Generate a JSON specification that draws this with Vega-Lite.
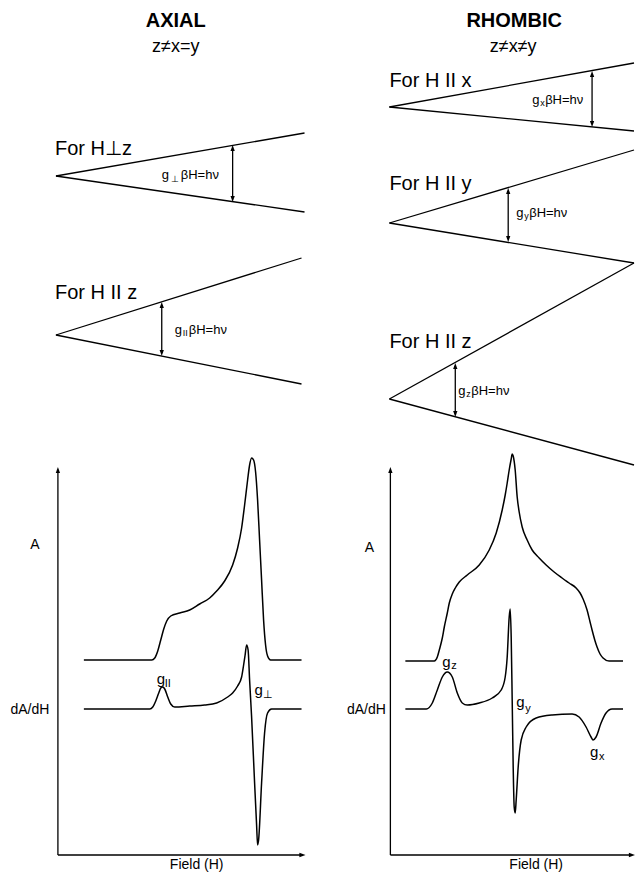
{
  "$schema": "https://vega.github.io/schema/vega-lite/v6.json",
  "width": 635,
  "height": 872,
  "autosize": {"type": "fit", "contains": "padding"},
  "padding": 0,
  "background": "white",
  "config": {"view": {"stroke": null}, "font": "Liberation Sans"},
  "encoding": {
    "x": {"field": "x", "type": "quantitative", "scale": {"domain": [0, 635], "nice": false, "zero": false}, "axis": null},
    "y": {"field": "y", "type": "quantitative", "scale": {"domain": [0, 872], "nice": false, "zero": false, "reverse": true}, "axis": null}
  },
  "layer": [
    {
      "data": {"values": [
        {"x": 56, "y": 176, "x2": 305, "y2": 133},
        {"x": 56, "y": 176, "x2": 305, "y2": 212},
        {"x": 56, "y": 335, "x2": 302, "y2": 258},
        {"x": 56, "y": 335, "x2": 302, "y2": 384},
        {"x": 390, "y": 107, "x2": 635, "y2": 63},
        {"x": 390, "y": 107, "x2": 635, "y2": 131},
        {"x": 390, "y": 223, "x2": 635, "y2": 150},
        {"x": 390, "y": 223, "x2": 635, "y2": 263},
        {"x": 390, "y": 399, "x2": 635, "y2": 263},
        {"x": 390, "y": 399, "x2": 635, "y2": 465},
        {"x": 233, "y": 149, "x2": 233, "y2": 198},
        {"x": 162, "y": 305, "x2": 162, "y2": 353},
        {"x": 593, "y": 74, "x2": 593, "y2": 124},
        {"x": 509, "y": 191, "x2": 509, "y2": 239},
        {"x": 456, "y": 366, "x2": 456, "y2": 414},
        {"x": 58, "y": 472, "x2": 58, "y2": 855},
        {"x": 58, "y": 855, "x2": 302, "y2": 855},
        {"x": 391, "y": 472, "x2": 391, "y2": 855},
        {"x": 391, "y": 855, "x2": 632, "y2": 855}
      ]},
      "mark": {"type": "rule", "color": "black", "strokeWidth": 1.3},
      "encoding": {"x2": {"field": "x2"}, "y2": {"field": "y2"}}
    },
    {
      "data": {"values": [
        {"x": 233, "y": 145, "d": "up"}, {"x": 233, "y": 202, "d": "down"},
        {"x": 162, "y": 302, "d": "up"}, {"x": 162, "y": 356, "d": "down"},
        {"x": 593, "y": 71, "d": "up"}, {"x": 593, "y": 127, "d": "down"},
        {"x": 509, "y": 188, "d": "up"}, {"x": 509, "y": 242, "d": "down"},
        {"x": 456, "y": 363, "d": "up"}, {"x": 456, "y": 417, "d": "down"},
        {"x": 58, "y": 467, "d": "up"}, {"x": 306, "y": 855, "d": "right"},
        {"x": 391, "y": 467, "d": "up"}, {"x": 636, "y": 855, "d": "right"}
      ]},
      "mark": {"type": "point", "filled": true, "opacity": 1, "color": "black", "strokeWidth": 0},
      "encoding": {
        "shape": {"field": "d", "type": "nominal", "legend": null,
          "scale": {"domain": ["up", "down", "right"], "range": ["M0,0L0.35,1L-0.35,1Z", "M0,0L0.35,-1L-0.35,-1Z", "M0,0L-1,0.35L-1,-0.35Z"]}},
        "size": {"value": 150}
      }
    },
    {
      "data": {"values": [
        {"c": "A_ax", "x": 84, "y": 660}, {"c": "A_ax", "x": 152, "y": 660}, {"c": "A_ax", "x": 155, "y": 658}, {"c": "A_ax", "x": 158, "y": 651}, {"c": "A_ax", "x": 161, "y": 640}, {"c": "A_ax", "x": 164, "y": 629}, {"c": "A_ax", "x": 167, "y": 621}, {"c": "A_ax", "x": 171, "y": 616}, {"c": "A_ax", "x": 180, "y": 613}, {"c": "A_ax", "x": 190, "y": 610}, {"c": "A_ax", "x": 200, "y": 604}, {"c": "A_ax", "x": 210, "y": 598}, {"c": "A_ax", "x": 217, "y": 591}, {"c": "A_ax", "x": 225, "y": 581}, {"c": "A_ax", "x": 233, "y": 565}, {"c": "A_ax", "x": 238, "y": 548}, {"c": "A_ax", "x": 242, "y": 528}, {"c": "A_ax", "x": 245, "y": 505}, {"c": "A_ax", "x": 248, "y": 480}, {"c": "A_ax", "x": 250, "y": 465}, {"c": "A_ax", "x": 252, "y": 458}, {"c": "A_ax", "x": 254, "y": 460}, {"c": "A_ax", "x": 256, "y": 472}, {"c": "A_ax", "x": 258, "y": 500}, {"c": "A_ax", "x": 260, "y": 540}, {"c": "A_ax", "x": 262, "y": 580}, {"c": "A_ax", "x": 264, "y": 620}, {"c": "A_ax", "x": 266, "y": 645}, {"c": "A_ax", "x": 268, "y": 656}, {"c": "A_ax", "x": 271, "y": 660}, {"c": "A_ax", "x": 302, "y": 660},

        {"c": "D_ax", "x": 84, "y": 709}, {"c": "D_ax", "x": 150, "y": 709}, {"c": "D_ax", "x": 153, "y": 707}, {"c": "D_ax", "x": 156, "y": 701}, {"c": "D_ax", "x": 159, "y": 693}, {"c": "D_ax", "x": 161, "y": 688}, {"c": "D_ax", "x": 163, "y": 687}, {"c": "D_ax", "x": 165, "y": 689}, {"c": "D_ax", "x": 168, "y": 697}, {"c": "D_ax", "x": 171, "y": 704}, {"c": "D_ax", "x": 175, "y": 707}, {"c": "D_ax", "x": 190, "y": 706}, {"c": "D_ax", "x": 205, "y": 705}, {"c": "D_ax", "x": 217, "y": 703}, {"c": "D_ax", "x": 228, "y": 697}, {"c": "D_ax", "x": 233, "y": 693}, {"c": "D_ax", "x": 238, "y": 686}, {"c": "D_ax", "x": 242, "y": 677}, {"c": "D_ax", "x": 244, "y": 665}, {"c": "D_ax", "x": 245.5, "y": 655}, {"c": "D_ax", "x": 247, "y": 645}, {"c": "D_ax", "x": 248.5, "y": 650}, {"c": "D_ax", "x": 250, "y": 680}, {"c": "D_ax", "x": 252, "y": 717}, {"c": "D_ax", "x": 255, "y": 783}, {"c": "D_ax", "x": 257, "y": 825}, {"c": "D_ax", "x": 258, "y": 845}, {"c": "D_ax", "x": 259, "y": 840}, {"c": "D_ax", "x": 262, "y": 783}, {"c": "D_ax", "x": 265, "y": 733}, {"c": "D_ax", "x": 268, "y": 713}, {"c": "D_ax", "x": 272, "y": 709}, {"c": "D_ax", "x": 302, "y": 709},

        {"c": "A_rh", "x": 406, "y": 661}, {"c": "A_rh", "x": 435, "y": 661}, {"c": "A_rh", "x": 438, "y": 657}, {"c": "A_rh", "x": 440, "y": 650}, {"c": "A_rh", "x": 443, "y": 638}, {"c": "A_rh", "x": 445, "y": 627}, {"c": "A_rh", "x": 448, "y": 613}, {"c": "A_rh", "x": 450, "y": 603}, {"c": "A_rh", "x": 453, "y": 594}, {"c": "A_rh", "x": 456, "y": 588}, {"c": "A_rh", "x": 460, "y": 582}, {"c": "A_rh", "x": 468, "y": 575}, {"c": "A_rh", "x": 480, "y": 565}, {"c": "A_rh", "x": 490, "y": 550}, {"c": "A_rh", "x": 497, "y": 533}, {"c": "A_rh", "x": 503, "y": 510}, {"c": "A_rh", "x": 506, "y": 495}, {"c": "A_rh", "x": 508, "y": 483}, {"c": "A_rh", "x": 510, "y": 470}, {"c": "A_rh", "x": 512, "y": 459}, {"c": "A_rh", "x": 513, "y": 454}, {"c": "A_rh", "x": 514, "y": 456}, {"c": "A_rh", "x": 516, "y": 470}, {"c": "A_rh", "x": 518, "y": 497}, {"c": "A_rh", "x": 520, "y": 512}, {"c": "A_rh", "x": 523, "y": 527}, {"c": "A_rh", "x": 528, "y": 540}, {"c": "A_rh", "x": 533, "y": 550}, {"c": "A_rh", "x": 540, "y": 558}, {"c": "A_rh", "x": 547, "y": 565}, {"c": "A_rh", "x": 555, "y": 572}, {"c": "A_rh", "x": 563, "y": 578}, {"c": "A_rh", "x": 570, "y": 583}, {"c": "A_rh", "x": 577, "y": 588}, {"c": "A_rh", "x": 581, "y": 593}, {"c": "A_rh", "x": 584, "y": 599}, {"c": "A_rh", "x": 588, "y": 610}, {"c": "A_rh", "x": 591, "y": 622}, {"c": "A_rh", "x": 593, "y": 630}, {"c": "A_rh", "x": 596, "y": 641}, {"c": "A_rh", "x": 598, "y": 647}, {"c": "A_rh", "x": 601, "y": 654}, {"c": "A_rh", "x": 604, "y": 658}, {"c": "A_rh", "x": 610, "y": 661}, {"c": "A_rh", "x": 624, "y": 661},

        {"c": "D_rh", "x": 406, "y": 709}, {"c": "D_rh", "x": 427, "y": 709}, {"c": "D_rh", "x": 433, "y": 703}, {"c": "D_rh", "x": 438, "y": 690}, {"c": "D_rh", "x": 443, "y": 677}, {"c": "D_rh", "x": 448, "y": 672}, {"c": "D_rh", "x": 453, "y": 677}, {"c": "D_rh", "x": 458, "y": 693}, {"c": "D_rh", "x": 463, "y": 703}, {"c": "D_rh", "x": 468, "y": 705}, {"c": "D_rh", "x": 480, "y": 703}, {"c": "D_rh", "x": 493, "y": 698}, {"c": "D_rh", "x": 502, "y": 690}, {"c": "D_rh", "x": 506, "y": 677}, {"c": "D_rh", "x": 508, "y": 657}, {"c": "D_rh", "x": 510, "y": 617}, {"c": "D_rh", "x": 511, "y": 609}, {"c": "D_rh", "x": 512, "y": 637}, {"c": "D_rh", "x": 513, "y": 700}, {"c": "D_rh", "x": 514, "y": 767}, {"c": "D_rh", "x": 515, "y": 807}, {"c": "D_rh", "x": 516, "y": 813}, {"c": "D_rh", "x": 517, "y": 800}, {"c": "D_rh", "x": 519, "y": 767}, {"c": "D_rh", "x": 522, "y": 740}, {"c": "D_rh", "x": 527, "y": 727}, {"c": "D_rh", "x": 537, "y": 718}, {"c": "D_rh", "x": 553, "y": 715}, {"c": "D_rh", "x": 573, "y": 714}, {"c": "D_rh", "x": 580, "y": 717}, {"c": "D_rh", "x": 587, "y": 727}, {"c": "D_rh", "x": 592, "y": 737}, {"c": "D_rh", "x": 594, "y": 740}, {"c": "D_rh", "x": 597, "y": 737}, {"c": "D_rh", "x": 602, "y": 723}, {"c": "D_rh", "x": 607, "y": 713}, {"c": "D_rh", "x": 613, "y": 709}, {"c": "D_rh", "x": 624, "y": 709}
      ]},
      "mark": {"type": "line", "interpolate": "monotone", "color": "black", "strokeWidth": 1.5},
      "encoding": {"detail": {"field": "c", "type": "nominal"}}
    },
    {
      "data": {"values": [
        {"x": 176, "y": 27, "t": "AXIAL"},
        {"x": 515, "y": 27, "t": "RHOMBIC"}
      ]},
      "mark": {"type": "text", "fontSize": 20, "fontWeight": "bold", "align": "center", "baseline": "alphabetic", "color": "black"},
      "encoding": {"text": {"field": "t"}}
    },
    {
      "data": {"values": [
        {"x": 176, "y": 52, "t": "z≠x=y"},
        {"x": 514, "y": 52, "t": "z≠x≠y"}
      ]},
      "mark": {"type": "text", "fontSize": 18, "align": "center", "baseline": "alphabetic", "color": "black"},
      "encoding": {"text": {"field": "t"}}
    },
    {
      "data": {"values": [
        {"x": 55, "y": 155, "t": "For H⊥z"},
        {"x": 55, "y": 299, "t": "For H II z"},
        {"x": 390, "y": 87, "t": "For H II x"},
        {"x": 390, "y": 190, "t": "For H II y"},
        {"x": 390, "y": 348, "t": "For H II z"}
      ]},
      "mark": {"type": "text", "fontSize": 20, "align": "left", "baseline": "alphabetic", "color": "black"},
      "encoding": {"text": {"field": "t"}}
    },
    {
      "data": {"values": [
        {"x": 162, "y": 179, "t": "g"}, {"x": 181, "y": 179, "t": "βH=hν"},
        {"x": 175, "y": 334, "t": "g"}, {"x": 189, "y": 334, "t": "βH=hν"},
        {"x": 533, "y": 104, "t": "g"}, {"x": 546, "y": 104, "t": "βH=hν"},
        {"x": 517, "y": 217, "t": "g"}, {"x": 530, "y": 217, "t": "βH=hν"},
        {"x": 459, "y": 395, "t": "g"}, {"x": 472, "y": 395, "t": "βH=hν"}
      ]},
      "mark": {"type": "text", "fontSize": 13, "align": "left", "baseline": "alphabetic", "color": "black"},
      "encoding": {"text": {"field": "t"}}
    },
    {
      "data": {"values": [
        {"x": 171, "y": 182, "t": "⊥"},
        {"x": 183, "y": 336, "t": "II"},
        {"x": 541, "y": 106, "t": "x"},
        {"x": 525, "y": 219, "t": "y"},
        {"x": 467, "y": 397, "t": "z"}
      ]},
      "mark": {"type": "text", "fontSize": 9, "align": "left", "baseline": "alphabetic", "color": "black"},
      "encoding": {"text": {"field": "t"}}
    },
    {
      "data": {"values": [
        {"x": 35, "y": 545, "t": "A"},
        {"x": 30, "y": 710, "t": "dA/dH"},
        {"x": 197, "y": 865, "t": "Field (H)"},
        {"x": 370, "y": 548, "t": "A"},
        {"x": 367, "y": 710, "t": "dA/dH"},
        {"x": 537, "y": 865, "t": "Field (H)"}
      ]},
      "mark": {"type": "text", "fontSize": 14, "align": "center", "baseline": "middle", "color": "black"},
      "encoding": {"text": {"field": "t"}}
    },
    {
      "data": {"values": [
        {"x": 157, "y": 684, "t": "g"},
        {"x": 255, "y": 695, "t": "g"},
        {"x": 443, "y": 667, "t": "g"},
        {"x": 517, "y": 707, "t": "g"},
        {"x": 591, "y": 757, "t": "g"}
      ]},
      "mark": {"type": "text", "fontSize": 15, "align": "left", "baseline": "alphabetic", "color": "black"},
      "encoding": {"text": {"field": "t"}}
    },
    {
      "data": {"values": [
        {"x": 165, "y": 687, "t": "II"},
        {"x": 263, "y": 698, "t": "⊥"},
        {"x": 452, "y": 669, "t": "z"},
        {"x": 526, "y": 712, "t": "y"},
        {"x": 600, "y": 760, "t": "x"}
      ]},
      "mark": {"type": "text", "fontSize": 11, "align": "left", "baseline": "alphabetic", "color": "black"},
      "encoding": {"text": {"field": "t"}}
    }
  ]
}
